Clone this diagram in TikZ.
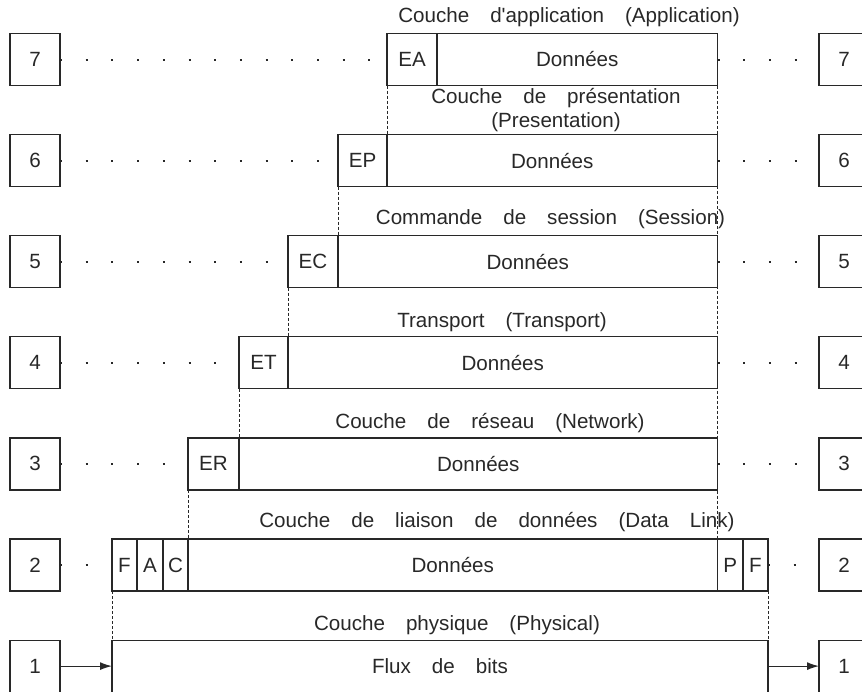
\documentclass[tikz,border=0pt]{standalone}
\usepackage{fontspec}
\setmainfont{Liberation Sans}
\usetikzlibrary{arrows.meta, positioning}
\definecolor{inkgray}{RGB}{40, 40, 40}

\newcommand{\layerfont}{\fontsize{10.3}{12}\selectfont\spaceskip=10.5pt\relax}

\tikzset{
    numbox/.style={draw, minimum width=25pt, minimum height=26pt, inner sep=0pt, outer sep=0pt},
    cell/.style={draw, minimum height=26pt, inner sep=0pt, outer sep=0pt, anchor=west},
    dotline/.style={line width=1pt, dash pattern=on 1pt off 11.85pt},
    guide/.style={line width=0.4pt, dash pattern=on 1.7pt off 0.8pt},
    layer/.style={inner sep=0pt}
}

\begin{document}
\begin{tikzpicture}[x=0.5pt, y=-0.5pt, line width=0.6pt, color=inkgray, font=\layerfont]
    \useasboundingbox (0,0) rectangle (862,691);

    % Layer numbers on both sides
    \foreach \n/\y in {7/59.5, 6/160.6, 5/261.7, 4/362.8, 3/463.9, 2/565, 1/666.1} {
        \node[numbox] (l\n) at (35,\y) {\n};
        \node[numbox] (r\n) at (844,\y) {\n};
    }

    % Frames
    \node[cell, minimum width=25pt] (ea) at (387,59.5) {EA};
    \node[cell, minimum width=140.25pt, right=0pt of ea] (d7) {Données};

    \node[cell, minimum width=24.5pt] (ep) at (338,160.6) {EP};
    \node[cell, minimum width=165.25pt, right=0pt of ep] (d6) {Données};

    \node[cell, minimum width=25pt] (ec) at (288,261.7) {EC};
    \node[cell, minimum width=189.75pt, right=0pt of ec] (d5) {Données};

    \node[cell, minimum width=24.5pt] (et) at (239,362.8) {ET};
    \node[cell, minimum width=214.75pt, right=0pt of et] (d4) {Données};

    \node[cell, minimum width=25.5pt] (er) at (188,463.9) {ER};
    \node[cell, minimum width=239.25pt, right=0pt of er] (d3) {Données};

    \node[cell, minimum width=12.5pt] (fa) at (112,565) {F};
    \node[cell, minimum width=13pt, right=0pt of fa] (ad) {A};
    \node[cell, minimum width=12.5pt, right=0pt of ad] (ct) {C};
    \node[cell, minimum width=264.75pt, right=0pt of ct] (d2) {Données};
    \node[cell, minimum width=12.75pt, right=0pt of d2] (pc) {P};
    \node[cell, minimum width=12.5pt, right=0pt of pc] (fb) {F};

    \node[cell, minimum width=328pt] (phys) at (112,666.1) {Flux de bits};

    % Layer titles
    \node[layer] (t7) at (569,17) {Couche d\textquotesingle application (Application)};
    \node[layer, align=center] (t6) at (556,110) {Couche de présentation\\(Presentation)};
    \node[layer] (t5) at (550.5,219) {Commande de session (Session)};
    \node[layer] (t4) at (502,322) {Transport (Transport)};
    \node[layer] (t3) at (490,423) {Couche de réseau (Network)};
    \node[layer] (t2) at (497,522) {Couche de liaison de données (Data Link)};
    \node[layer] (t1) at (457,625) {Couche physique (Physical)};

    % Peer dots
    \draw[dotline] (l7.east) -- (ea.west);
    \draw[dotline] (l6.east) -- (ep.west);
    \draw[dotline] (l5.east) -- (ec.west);
    \draw[dotline] (l4.east) -- (et.west);
    \draw[dotline] (l3.east) -- (er.west);
    \draw[dotline] (l2.east) -- (fa.west);
    \draw[dotline] (d7.east) -- (r7.west);
    \draw[dotline] (d6.east) -- (r6.west);
    \draw[dotline] (d5.east) -- (r5.west);
    \draw[dotline] (d4.east) -- (r4.west);
    \draw[dotline] (d3.east) -- (r3.west);
    \draw[dotline] (fb.east) -- (r2.west);

    % Bit stream
    \draw[-{Latex[length=6pt, width=4pt]}] (l1) -- (phys);
    \draw[-{Latex[length=6pt, width=4pt]}] (phys) -- (r1);

    % Encapsulation guides
    \draw[guide] (ea.south west) -- (ep.north east);
    \draw[guide] (ep.south west) -- (ec.north east);
    \draw[guide] (ec.south west) -- (et.north east);
    \draw[guide] (et.south west) -- (er.north east);
    \draw[guide] (er.south west) -- (ct.north east);
    \draw[guide] (d7.south east) -- (d2.north east);
    \draw[guide] (fa.south west) -- (phys.north west);
    \draw[guide] (fb.south east) -- (phys.north east);

\end{tikzpicture}
\end{document}
